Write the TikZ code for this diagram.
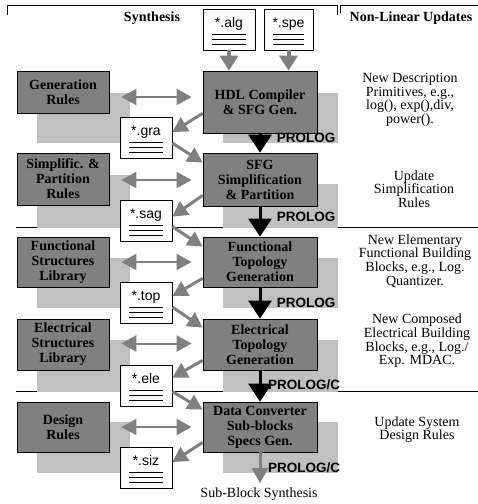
\documentclass[tikz,border=0pt]{standalone}
\usepackage{fontspec}
\setmainfont{Liberation Serif}
\setsansfont{Liberation Sans}
\usetikzlibrary{arrows.meta,calc}
\definecolor{boxgray}{RGB}{128,128,128}
\definecolor{shadowgray}{RGB}{192,192,192}
\definecolor{arrgray}{RGB}{128,128,128}
\begin{document}
\begin{tikzpicture}[x=1pt,y=-1pt,
  bigbox/.style={draw=black, line width=0.8pt, fill=boxgray, inner sep=0pt, align=center,
    font=\fontsize{14}{15}\selectfont\bfseries},
  doc/.style={draw=black, line width=0.8pt, fill=white, inner sep=0pt, minimum width=52pt,
    text height=18pt, text depth=23pt, font=\fontsize{14}{15}\selectfont\sffamily,
    path picture={
      \foreach \dy in {16,11,6}{
        \draw[line width=0.8pt] ([xshift=9pt,yshift=\dy pt]path picture bounding box.south west)
          -- ([xshift=-9pt,yshift=\dy pt]path picture bounding box.south east);}
    }},
  shade/.style={fill=shadowgray},
  sepline/.style={draw=black, line width=0.8pt},
  prolog/.style={font=\fontsize{13.5}{14}\selectfont\sffamily\bfseries, inner sep=0pt},
  note/.style={align=center, inner sep=0pt, font=\fontsize{14}{13.6}\selectfont},
  head/.style={inner sep=0pt, font=\fontsize{14}{15}\selectfont\bfseries},
  garr/.style={draw=arrgray, line width=3pt, -{Triangle[length=15pt,width=16pt]}},
  varr/.style={draw=arrgray, line width=4pt, -{Triangle[length=15pt,width=18pt]}},
  darr/.style={draw=arrgray, line width=2pt,
    {Triangle[length=15pt,width=16pt]}-{Triangle[length=15pt,width=16pt]}},
  barr/.style={draw=black, line width=3pt, -{Triangle[length=18pt,width=23pt]}}
]
\useasboundingbox (0,0) rectangle (478,504);

% brackets
\draw[sepline] (7,15) -- (7,5) -- (337,5) -- (337,15);
\draw[sepline] (340,13) -- (340,5) -- (478,5);

% separators
\draw[sepline] (16,227) -- (478,227);
\draw[sepline] (16,391) -- (478,391);

% shadows
\fill[shade] (37,93) rectangle (130,143);
\fill[shade] (223,93) rectangle (338,143);
\fill[shade] (37,175) rectangle (130,228);
\fill[shade] (223,184) rectangle (338,228);
\fill[shade] (37,258) rectangle (130,308);
\fill[shade] (223,258) rectangle (338,308);
\fill[shade] (37,340) rectangle (130,392);
\fill[shade] (223,340) rectangle (338,392);
\fill[shade] (37,422) rectangle (130,473);
\fill[shade] (223,422) rectangle (338,473);

% headings
\node[head] (hsyn) at (152,18) {Synthesis};
\node[head] (hnl) at (411,18) {Non-Linear Updates};

% input docs
\node[doc, minimum width=52pt] (alg) at (229,29.5) {*.alg};
\node[doc, minimum width=49pt] (spe) at (288.5,29.5) {*.spe};

% main boxes
\node[bigbox, minimum width=114pt, minimum height=62pt] (hdl) at (260,102) {HDL Compiler\\\& SFG Gen.};
\node[bigbox, minimum width=114pt, minimum height=53pt] (sfg) at (260,179.5) {SFG\\Simplification\\\& Partition};
\node[bigbox, minimum width=114pt, minimum height=50pt] (fun) at (260,262) {Functional\\Topology\\Generation};
\node[bigbox, minimum width=114pt, minimum height=51pt] (elb) at (260,344.5) {Electrical\\Topology\\Generation};
\node[bigbox, minimum width=114pt, minimum height=50pt] (dat) at (260,427) {Data Converter\\Sub-blocks\\Specs Gen.};

% left boxes
\node[bigbox, minimum width=92pt, minimum height=42pt] (gen) at (63,92) {Generation\\Rules};
\node[bigbox, minimum width=92pt, minimum height=52pt] (sim) at (63,179) {Simplific. \&\\Partition\\Rules};
\node[bigbox, minimum width=92pt, minimum height=50pt] (fsl) at (63,262) {Functional\\Structures\\Library};
\node[bigbox, minimum width=92pt, minimum height=51pt] (esl) at (63,344.5) {Electrical\\Structures\\Library};
\node[bigbox, minimum width=92pt, minimum height=50pt] (des) at (63,427) {Design\\Rules};

% intermediate docs
\node[doc] (gra) at (146,138) {*.gra};
\node[doc] (sag) at (146,220.5) {*.sag};
\node[doc] (top) at (146,303) {*.top};
\node[doc] (eld) at (146,385.5) {*.ele};
\node[doc] (siz) at (146,468) {*.siz};

% doc -> hdl
\draw[varr] (alg.south) -- (alg.south |- hdl.north);
\draw[varr] (spe.south) -- (spe.south |- hdl.north);

% double arrows rules <-> boxes
\draw[darr] ($(gen.east)+(12,5)$) -- ($(gen.east -| hdl.west)+(-11,5)$);
\draw[darr] ($(sim.east)+(12,1)$) -- ($(sim.east -| sfg.west)+(-11,1)$);
\draw[darr] ($(fsl.east)+(12,0)$) -- ($(fsl.east -| fun.west)+(-11,0)$);
\draw[darr] ($(esl.east)+(12,-1)$) -- ($(esl.east -| elb.west)+(-11,-1)$);
\draw[darr] ($(des.east)+(12,0)$) -- ($(des.east -| dat.west)+(-11,0)$);

% diagonal flow arrows
\draw[garr] ([yshift=20pt]hdl.south west) -- ([yshift=-15pt]gra.north east);
\draw[garr] ([yshift=-26pt]gra.north east) -- ([yshift=-10pt]sfg.north west);
\draw[garr] ([yshift=11pt]sfg.south west) -- ([yshift=-17pt]sag.north east);
\draw[garr] ([yshift=-27pt]sag.north east) -- ([yshift=-10pt]fun.north west);
\draw[garr] ([yshift=9pt]fun.south west) -- ([yshift=-14pt]top.north east);
\draw[garr] ([yshift=-25pt]top.north east) -- ([yshift=-9pt]elb.north west);
\draw[garr] ([yshift=10pt]elb.south west) -- ([yshift=-13pt]eld.north east);
\draw[garr] ([yshift=-27pt]eld.north east) -- ([yshift=-8pt]dat.north west);
\draw[garr] ([yshift=10pt]dat.south west) -- ([yshift=-15pt]siz.north east);

% main black arrows
\draw[barr] (hdl.south) -- (sfg.north);
\draw[barr] (sfg.south) -- (fun.north);
\draw[barr] (fun.south) -- (elb.north);
\draw[barr] (elb.south) -- (dat.north);

% output
\coordinate (subend) at (260,483);
\draw[garr] (dat.south) -- (subend);
\node[note] (sub) at (259,494) {Sub-Block Synthesis};

% prolog labels
\node[prolog] (p1) at (306,138) {PROLOG};
\node[prolog] (p2) at (306,217) {PROLOG};
\node[prolog] (p3) at (306,303) {PROLOG};
\node[prolog] (p4) at (304,385) {PROLOG/C};
\node[prolog] (p5) at (304,468) {PROLOG/C};

% right column notes
\node[note] (n1) at (410,100) {New Description\\Primitives, e.g.,\\log(), exp(),div,\\power().};
\node[note] (n2) at (414,189) {Update\\Simplification\\Rules};
\node[note] (n3) at (415,261) {New Elementary\\Functional Building\\Blocks, e.g., Log.\\Quantizer.};
\node[note] (n4) at (417,341) {New Composed\\Electrical Building\\Blocks, e.g., Log./\\Exp. MDAC.};
\node[note] (n5) at (417,429.5) {Update System\\Design Rules};
\end{tikzpicture}
\end{document}
